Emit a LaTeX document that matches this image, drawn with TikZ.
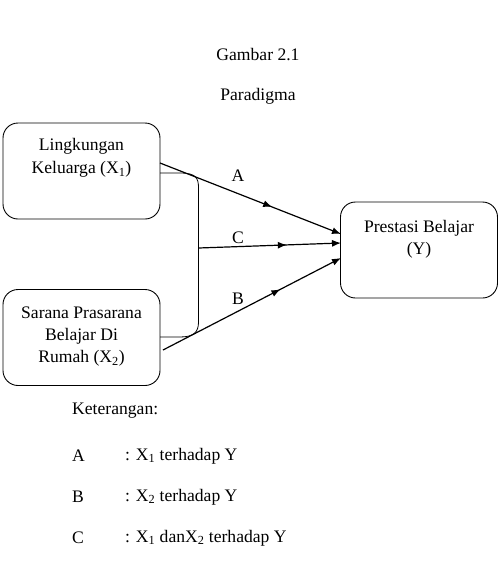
\documentclass[tikz,border=0pt]{standalone}
\usepackage{fontspec}
\setmainfont{Liberation Serif}
\usetikzlibrary{arrows.meta,decorations.markings}
\begin{document}
\begin{tikzpicture}[x=1pt,y=-1pt,
  font=\fontsize{17.6}{21}\selectfont,
  box/.style={draw,line width=0.9pt,rounded corners=15pt,minimum width=157pt,minimum height=96pt,inner sep=0pt},
  txt/.style={inner sep=0pt,align=center},
  conn/.style={line width=1.2pt,-{Latex[length=9pt,width=7pt]}},
  midarr/.style={postaction={decorate},decoration={markings,mark=at position #1 with {\arrow{Latex[length=9pt,width=7pt]}}}},
  lab/.style={inner sep=0pt}]
\useasboundingbox (0,0) rectangle (499,582);
\node[txt] (title) at (258,55) {Gambar 2.1};
\node[txt] (sub) at (258,96) {Paradigma};
% boxes
\node[box] (x1) at (81.5,171) {};
\node[box] (x2) at (81.5,337.5) {};
\node[box] (y) at (419,250) {};
\node[txt] (x1t) at (81.5,158) {Lingkungan\\[2pt]Keluarga (X\textsubscript{1})};
\node[txt] (x2t) at (81.5,337) {Sarana Prasarana\\[1pt]Belajar Di\\[1pt]Rumah (X\textsubscript{2})};
\node[txt] (yt) at (419,239) {Prestasi Belajar\\[1pt](Y)};
% bracket
\coordinate (bt) at (160,173);
\coordinate (bb) at (160,337);
\coordinate (bm) at (198.5,248);
\draw[line width=0.8pt] (bt) -- (180,173) .. controls (196,173) and (198.5,178) .. (198.5,188)
  -- (198.5,322) .. controls (198.5,332) and (194,337) .. (180,337) -- (bb);
% connectors
\coordinate (a0) at (160,163);
\coordinate (b0) at (163,350);
\coordinate (ya) at (341,234);
\coordinate (yc) at (341,243);
\coordinate (yb) at (341,258);
\draw[conn,midarr=0.62] (a0) -- (ya);
\draw[conn,midarr=0.62] (bm) -- (yc);
\draw[conn,midarr=0.66] (b0) -- (yb);
\node[lab] (la) at (238,176) {A};
\node[lab] (lc) at (238,238) {C};
\node[lab] (lb) at (238,299) {B};
% legend
\node[txt,anchor=west] (ket) at (72,411) {Keterangan:};
\node[txt,anchor=west] (k1) at (72,456) {A};
\node[txt,anchor=west] (k1b) at (125,456) {: X\textsubscript{1} terhadap Y};
\node[txt,anchor=west] (k2) at (72,497) {B};
\node[txt,anchor=west] (k2b) at (125,497) {: X\textsubscript{2} terhadap Y};
\node[txt,anchor=west] (k3) at (72,538) {C};
\node[txt,anchor=west] (k3b) at (125,538) {: X\textsubscript{1} danX\textsubscript{2} terhadap Y};
\end{tikzpicture}
\end{document}
